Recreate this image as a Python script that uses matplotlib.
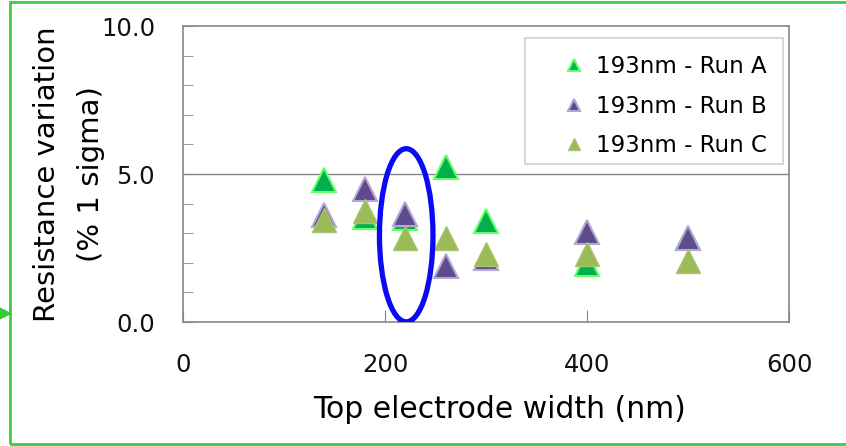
import matplotlib.pyplot as plt
from matplotlib.patches import Ellipse, Rectangle
from matplotlib.ticker import MultipleLocator

plt.rcParams['font.family'] = ['DejaVu Sans']

# top electrode width (nm)
width_a = [140, 180, 220, 260, 300, 400, 500]
width_b = [140, 180, 220, 260, 300, 400, 500]
width_c = [140, 180, 220, 260, 300, 400, 500]

# resistance variation (% 1 sigma)
run_a = [4.8, 3.55, 3.5, 5.25, 3.4, 1.95, 2.85]
run_b = [3.6, 4.5, 3.65, 1.9, 2.15, 3.05, 2.85]
run_c = [3.45, 3.75, 2.85, 2.85, 2.3, 2.3, 2.05]

labels = ['193nm - Run A', '193nm - Run B', '193nm - Run C']

grey = '#868686'

fig = plt.figure(figsize=(8.46, 4.46), dpi=100)
ax = fig.add_axes([183/846, 124/446, 606/846, 296/446])

ax.plot(width_a, run_a, '^', ms=17, mfc='#00B050', mec='#66FF66', mew=1.5, label=labels[0])
ax.plot(width_b, run_b, '^', ms=17, mfc='#5F4B8B', mec='#B4A7D6', mew=1.5, label=labels[1])
ax.plot(width_c, run_c, '^', ms=17, mfc='#9BBB59', mec='#A9C46E', mew=1.0, label=labels[2])

# highlight around the 220 nm points
ring = Ellipse((221, 2.93), 53, 5.85, fill=False, ec='#0A0AF5', lw=3.8, zorder=5)
ax.add_patch(ring)

ax.set_xlim(0, 600)
ax.set_ylim(0, 10)
ax.xaxis.set_major_locator(MultipleLocator(200))
ax.yaxis.set_major_locator(MultipleLocator(5))
ax.yaxis.set_minor_locator(MultipleLocator(1))
ax.yaxis.set_major_formatter('{x:.1f}')
ax.axhline(5, color=grey, lw=1.0, zorder=0)

for s in ax.spines.values():
    s.set_color(grey)
    s.set_linewidth(1.2)
ax.tick_params(axis='both', which='both', direction='in', color=grey, labelsize=17.5,
               labelcolor='#111111')
ax.tick_params(axis='y', which='both', length=7, pad=20)
ax.tick_params(axis='x', length=9, pad=22)

ax.set_xlabel('Top electrode width (nm)', fontsize=21.5, labelpad=13)
ax.xaxis.label.set_x(0.523)
ax.set_ylabel('Resistance variation\n(% 1 sigma)', fontsize=21, labelpad=-3, linespacing=1.75)

# legend text without its own frame, box drawn separately (wider side padding)
leg = ax.legend(loc='upper left', bbox_to_anchor=(552/846, 1 - 44/446),
                bbox_transform=fig.transFigure, fontsize=16.5, markerscale=0.55,
                handlelength=0.9, handletextpad=0.5, labelspacing=0.72, borderpad=0,
                frameon=False)
fig.patches.append(Rectangle((525/846, 1 - 164/446), 258/846, 126/446,
                             transform=fig.transFigure, fill=False, ec='#D0D0D0', lw=1.2))

# green frame around the whole chart
fig.patches.append(Rectangle((10/846, 2/446), 840/846, 442/446, transform=fig.transFigure,
                             fill=False, ec='#3DCC3D', lw=2))
fig.lines.append(plt.Line2D([4/846], [1 - 313/446], transform=fig.transFigure, marker='>',
                            ms=9, color='#33CC33', ls='none'))

fig.savefig('out.png', dpi=100)
